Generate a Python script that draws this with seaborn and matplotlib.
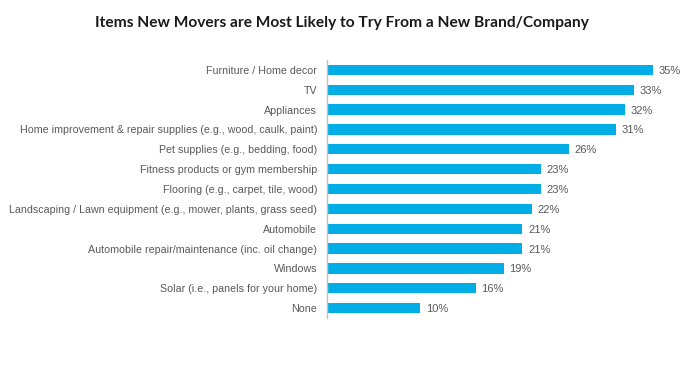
import matplotlib
matplotlib.use("Agg")
import matplotlib.pyplot as plt
import seaborn as sns
import pandas as pd
import numpy as np

# Data
items = [
    "Furniture / Home decor",
    "TV",
    "Appliances",
    "Home improvement & repair supplies (e.g., wood, caulk, paint)",
    "Pet supplies (e.g., bedding, food)",
    "Fitness products or gym membership",
    "Flooring (e.g., carpet, tile, wood)",
    "Landscaping / Lawn equipment (e.g., mower, plants, grass seed)",
    "Automobile",
    "Automobile repair/maintenance (inc. oil change)",
    "Windows",
    "Solar (i.e., panels for your home)",
    "None",
]
pct = [35, 33, 32, 31, 26, 23, 23, 22, 21, 21, 19, 16, 10]

df = pd.DataFrame({"Item": items, "Pct": pct})

sns.set_style("white")
plt.rcParams['font.family'] = ['Liberation Sans', 'DejaVu Sans']

fig = plt.figure(figsize=(6.83, 3.75), dpi=100)
ax = fig.add_axes([0.4788, 0.152, 0.511, 0.688])

sns.barplot(data=df, x="Pct", y="Item", color="#00ADE6", width=0.52,
            saturation=1, linewidth=0, ax=ax)

# value labels
for i, v in enumerate(pct):
    ax.text(v + 0.6, i, f"{v}%", va="center_baseline", ha="left",
            fontsize=8, color="#595959")

ax.set_xlim(0, 37.5)
ax.set_ylim(len(items) - 0.5, -0.5)
ax.set_xlabel("")
ax.set_ylabel("")
ax.set_xticks([])

for s in ["top", "right", "bottom"]:
    ax.spines[s].set_visible(False)
ax.spines["left"].set_color("#BFBFBF")
ax.spines["left"].set_linewidth(1)

# ticks between categories
ax.set_yticks(np.arange(len(items)))
ax.set_yticklabels(items, fontsize=7.7, color="#595959")
ax.tick_params(axis="y", which="major", length=0, pad=7)
ax.set_yticks(np.arange(len(items) + 1) - 0.5, minor=True)
ax.tick_params(axis="y", which="minor", length=3, color="#BFBFBF", width=1)

fig.suptitle("Items New Movers are Most Likely to Try From a New Brand/Company",
             x=0.5, y=0.958, fontsize=11.2, fontweight="bold",
             family=["Lato", "DejaVu Sans"], color="#1a1a1a")

fig.savefig("out.png", dpi=100, facecolor="white")
